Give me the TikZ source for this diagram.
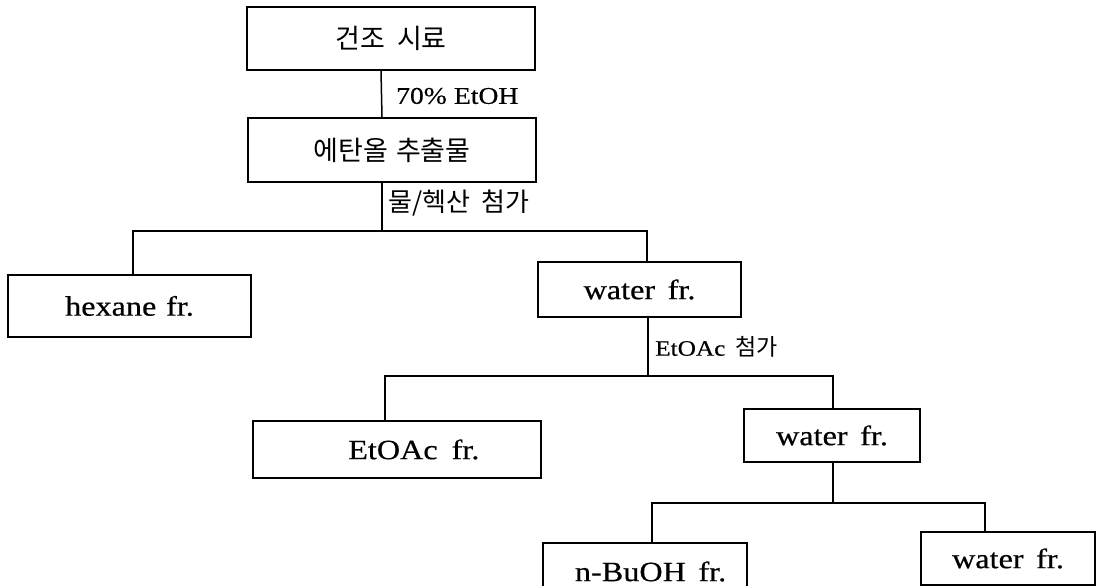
\documentclass[tikz,border=0pt]{standalone}
\usepackage{fontspec}
\setmainfont[FakeStretch=1.15,FakeBold=0.5]{Liberation Serif}
\newfontfamily\kr{Noto Sans CJK KR}
\begin{document}
\begin{tikzpicture}[x=1pt,y=-1pt,
  box/.style={draw,line width=1.5pt,inner sep=0pt,font=\fontsize{28}{30}\selectfont},
  krbox/.style={box,font=\kr\fontsize{27}{30}\selectfont},
  lab/.style={anchor=west,inner sep=0pt,font=\fontsize{24}{26}\selectfont},
  conn/.style={line width=1.5pt}]
\useasboundingbox (0,0) rectangle (1098,586);
\fill[white] (0,0) rectangle (1098,586);
\node[krbox,minimum width=288pt,minimum height=63pt] (b1) at (391,38.5) {건조\hspace{0.45em}시료};
\node[krbox,minimum width=288pt,minimum height=64pt] (b2) at (392,150) {에탄올\hspace{0.3em}추출물};
\node[box,minimum width=243pt,minimum height=62pt] (hex) at (129.5,306) {hexane\hspace{0.35em}fr.};
\node[box,minimum width=203pt,minimum height=55pt] (w1) at (639.5,289.5) {water\hspace{0.45em}fr.};
\node[box,minimum width=288pt,minimum height=57pt] (eto) at (397,449.5) {\hspace{1.2em}EtOAc\hspace{0.5em}fr.};
\node[box,minimum width=176pt,minimum height=53pt] (w2) at (832,435.5) {water\hspace{0.45em}fr.};
\node[box,minimum width=204pt,minimum height=57pt] (bu) at (645,571.5) {\hspace{0.4em}n-BuOH\hspace{0.45em}fr.};
\node[box,minimum width=174pt,minimum height=53pt] (w3) at (1008,558.5) {water\hspace{0.45em}fr.};
\coordinate (j1) at (382,231);
\coordinate (j2) at (648,376);
\coordinate (j3) at (833,503);
\draw[conn] ([xshift=-10pt]b1.south) -- ([xshift=-10pt]b2.north);
\draw[conn] ([xshift=-10pt]b2.south) -- (j1);
\draw[conn] ([xshift=3.5pt]hex.north) |- (j1) -| ([xshift=7.5pt]w1.north);
\draw[conn] ([xshift=8.5pt]w1.south) -- (j2);
\draw[conn] ([xshift=-12pt]eto.north) |- (j2) -| ([xshift=1pt]w2.north);
\draw[conn] ([xshift=1pt]w2.south) -- (j3);
\draw[conn] ([xshift=7pt]bu.north) |- (j3) -| ([xshift=-23pt]w3.north);
\node[lab] (l1) at (396,96) {70\%\hspace{0.3em}EtOH};
\node[lab,font=\kr\fontsize{26}{28}\selectfont] (l2) at (388,203) {물/헥산\hspace{0.45em}첨가};
\node[lab,font=\fontsize{22}{24}\selectfont] (l3) at (655,347) {EtOAc\hspace{0.45em}{\kr\fontsize{23}{24}\selectfont 첨가}};
\end{tikzpicture}
\end{document}
